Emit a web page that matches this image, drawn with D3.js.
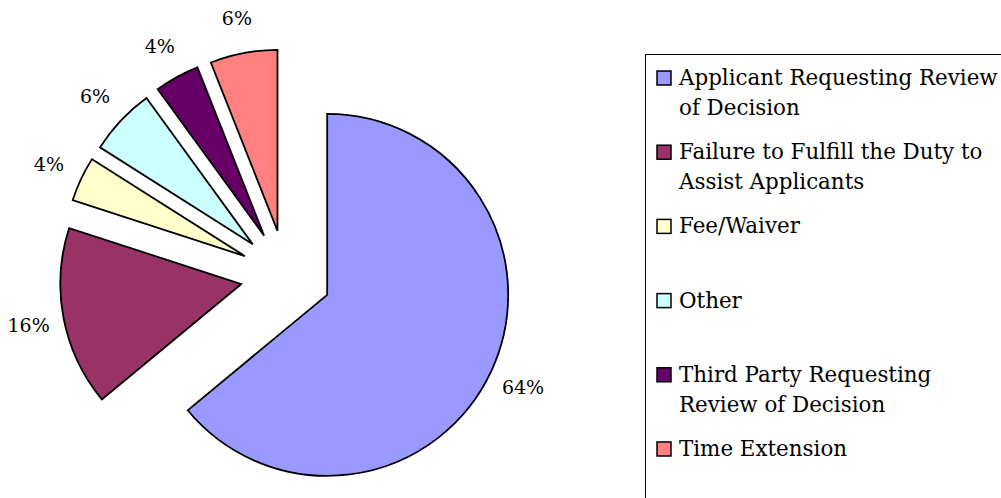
<!DOCTYPE html>
<html><head><meta charset="utf-8">
<script src="https://cdn.jsdelivr.net/npm/d3@7"></script>
<style>html,body{margin:0;padding:0;background:#fff;}svg{display:block;}</style>
</head><body>
<svg id="chart" width="1001" height="498"></svg>
<script>
const categories = ["Applicant Requesting Review of Decision","Failure to Fulfill the Duty to Assist Applicants","Fee/Waiver","Other","Third Party Requesting Review of Decision","Time Extension"];
const legendLines = [["Applicant Requesting Review","of Decision"],["Failure to Fulfill the Duty to","Assist Applicants"],["Fee/Waiver"],["Other"],["Third Party Requesting","Review of Decision"],["Time Extension"]];
const values = [64, 16, 4, 6, 4, 6];
const labels = ["64%","16%","4%","6%","4%","6%"];
const colors = ["#9999FF","#993366","#FFFFCC","#CCFFFF","#660066","#FF8080"];

const svg = d3.select("#chart");
const cx = 286, cy = 275.5, R = 181, explode = 45.5, labelR = 262;
const font = "'DejaVu Serif', serif";

const pie = d3.pie().sort(null).value(d => d).startAngle(0).endAngle(2*Math.PI);
const arcs = pie(values);
const arc = d3.arc().innerRadius(0).outerRadius(R);

const g = svg.append("g").attr("transform", `translate(${cx},${cy})`);
g.selectAll("path").data(arcs).enter().append("path")
  .attr("d", arc)
  .attr("fill", (d,i) => colors[i])
  .attr("stroke", "#000").attr("stroke-width", 1.8).attr("stroke-linejoin","miter")
  .attr("transform", d => {
    const m = (d.startAngle + d.endAngle)/2;
    return `translate(${Math.sin(m)*explode},${-Math.cos(m)*explode})`;
  });

g.selectAll("text.lbl").data(arcs).enter().append("text")
  .attr("class","lbl")
  .attr("x", d => Math.sin((d.startAngle+d.endAngle)/2)*labelR)
  .attr("y", d => -Math.cos((d.startAngle+d.endAngle)/2)*labelR)
  .attr("dy","0.38em")
  .attr("text-anchor","middle")
  .attr("font-family", font).attr("font-size", 19).attr("fill","#000")
  .text((d,i) => labels[i]);

// legend
const lg = svg.append("g");
lg.append("rect").attr("x",645.5).attr("y",54.5).attr("width",400).attr("height",500)
  .attr("fill","#fff").attr("stroke","#000").attr("stroke-width",1);
const slot = 74.2, top0 = 71;
categories.forEach((c,i) => {
  const y = top0 + i*slot;
  lg.append("rect").attr("x",657).attr("y",y).attr("width",14).attr("height",14)
    .attr("fill",colors[i]).attr("stroke","#000").attr("stroke-width",1.5);
  const t = lg.append("text").attr("font-family",font).attr("font-size",21.4).attr("fill","#000");
  legendLines[i].forEach((ln,j) => {
    t.append("tspan").attr("x",679).attr("y", y + 14 + j*30).text(ln);
  });
});
</script>
</body></html>
